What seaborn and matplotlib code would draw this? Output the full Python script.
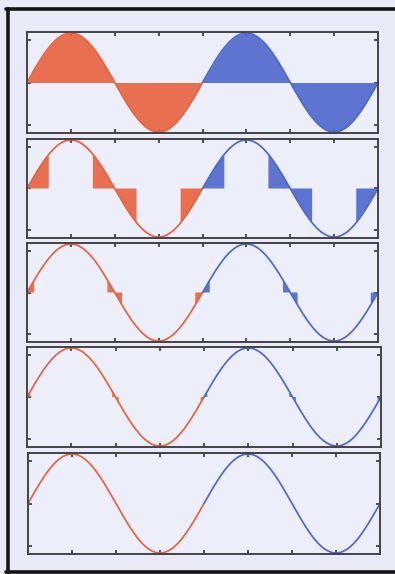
import numpy as np
import pandas as pd
import matplotlib
matplotlib.use("Agg")
import matplotlib.pyplot as plt
import seaborn as sns
from matplotlib.lines import Line2D

# ---- data ----
cycles = ["cycle 1", "cycle 2"]
cycle_colors = ["#e8623e", "#4e68cc"]
# residual threshold shown as filled error for each panel (fraction of peak)
panel_thresholds = [1.01, 0.707, 0.26, 0.12, 0.0]
x_tick_steps = [0, 1, 2, 3, 4, 5, 6, 7, 8]          # in units of pi/2
y_ticks = [-0.85, 0.0, 0.85]

# panel rectangles in pixels: left, top, right, bottom
panel_px = [
    (27, 32, 378, 133),
    (27, 139, 378, 238),
    (27, 243, 378, 342),
    (27, 347, 381, 447),
    (28, 453, 380, 554),
]

W, H = 395, 574
sns.set_theme(style="ticks")
bg = "#e8ebf7"
fig = plt.figure(figsize=(W / 100, H / 100), dpi=100, facecolor=bg)

x = np.linspace(0, 4 * np.pi, 2000)
y = np.sin(x)
cyc = np.where(x < 2 * np.pi, cycles[0], cycles[1])
df = pd.DataFrame({"x": x, "y": y, "cycle": cyc})

for (l, t, r, b), thr in zip(panel_px, panel_thresholds):
    ax = fig.add_axes([l / W, 1 - b / H, (r - l) / W, (b - t) / H])
    ax.set_facecolor("#eceefa")
    for name, col in zip(cycles, cycle_colors):
        d = df[df["cycle"] == name]
        xs = d["x"].to_numpy()
        ys = d["y"].to_numpy()
        mask = np.abs(ys) < thr
        if mask.any():
            ax.fill_between(xs, 0, ys, where=mask, color=col, alpha=0.9,
                            linewidth=0, interpolate=False)
    sns.lineplot(data=df, x="x", y="y", hue="cycle", palette=cycle_colors,
                 ax=ax, legend=False, linewidth=1.25, sort=False,
                 estimator=None)
    ax.set_xlim(0, 4 * np.pi)
    ax.set_ylim(-1.02, 1.02)
    ax.set_xticks([s * np.pi / 2 for s in x_tick_steps])
    ax.set_yticks(y_ticks)
    ax.set_xticklabels([])
    ax.set_yticklabels([])
    ax.set_xlabel("")
    ax.set_ylabel("")
    ax.tick_params(direction="in", length=3, width=1.2, color="#333333",
                   top=True, right=True, bottom=True, left=True)
    for sp in ax.spines.values():
        sp.set_visible(True)
        sp.set_color("#444444")
        sp.set_linewidth(1.4)

# outer frame (left, top, bottom)
fig.add_artist(Line2D([7.5 / W, 7.5 / W], [1 - 9 / H, 1 - 572 / H],
                      transform=fig.transFigure, color="#151515", linewidth=2.6))
fig.add_artist(Line2D([6 / W, 1.0], [1 - 9 / H, 1 - 9 / H],
                      transform=fig.transFigure, color="#151515", linewidth=2.6))
fig.add_artist(Line2D([6 / W, 1.0], [1 - 572 / H, 1 - 572 / H],
                      transform=fig.transFigure, color="#151515", linewidth=2.6))

fig.savefig("out.png", dpi=100, facecolor=bg)
